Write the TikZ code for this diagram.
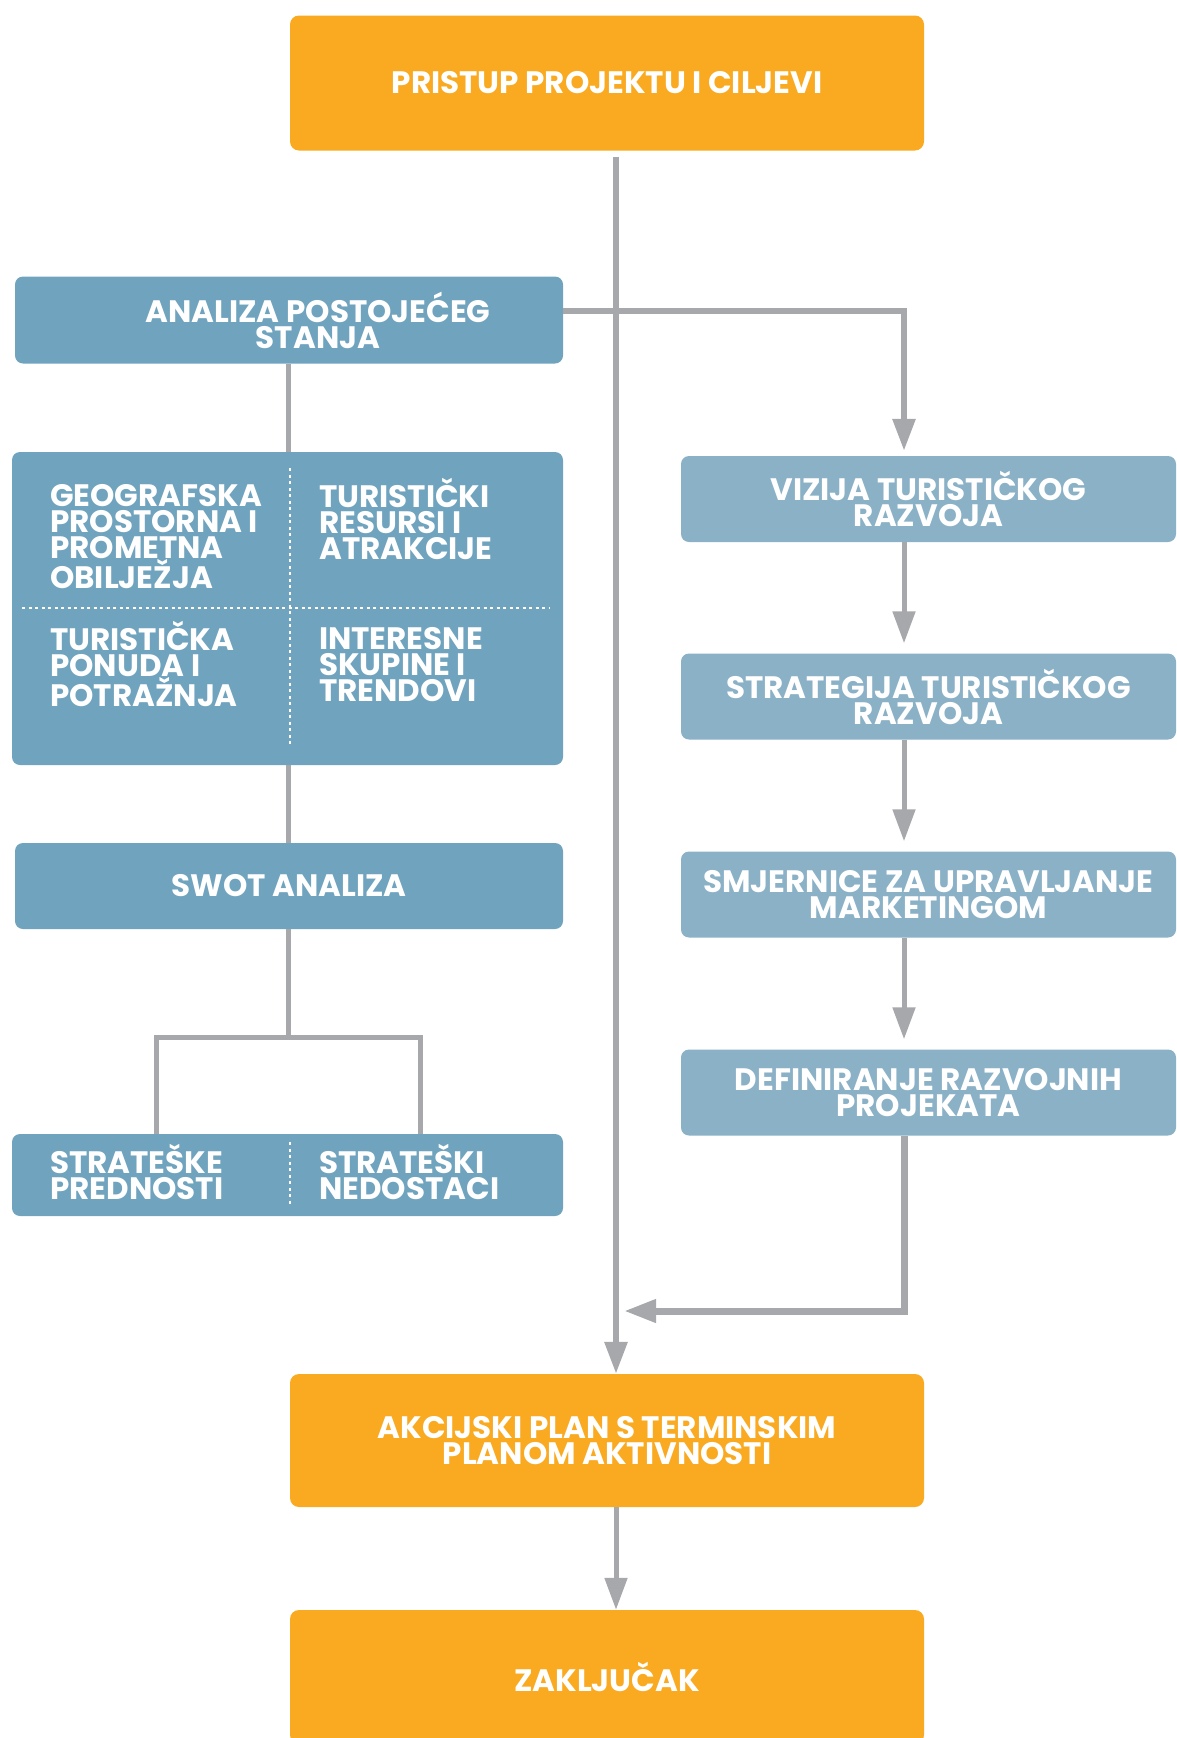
\documentclass[tikz,border=0pt]{standalone}
\usepackage{fontspec}
\setmainfont{Poppins}
\usetikzlibrary{arrows.meta,positioning}
\definecolor{boxorange}{HTML}{F9AA20}
\definecolor{boxblue}{HTML}{70A3BE}
\definecolor{boxlight}{HTML}{8BB1C7}
\definecolor{linegray}{HTML}{A7A8AB}

\begin{document}
\begin{tikzpicture}[x=1pt,y=-1pt,
  every node/.style={font=\fontsize{31}{26}\selectfont\bfseries, text=white, inner sep=0pt, align=center},
  orangebox/.style={fill=boxorange, rounded corners=9pt, minimum width=634pt, minimum height=135pt},
  bluebox/.style={fill=boxblue, rounded corners=8pt, minimum width=548pt, minimum height=78pt},
  lightbox/.style={fill=boxlight, rounded corners=8pt, minimum width=495pt, minimum height=86pt},
  cell/.style={anchor=north west, align=left},
  conn/.style={draw=linegray, line width=5pt},
  arr/.style={conn, -{Triangle[length=32pt,width=22pt]}},
  sep/.style={draw=white, line width=2.2pt, dash pattern=on 3pt off 3.5pt}]
  \useasboundingbox (0,0) rectangle (1176,1738);

  % main column
  \node[orangebox] (pristup) at (607,83) {PRISTUP PROJEKTU I CILJEVI};
  \node[orangebox, minimum height=133pt] (akcijski) at (607,1440.5) {AKCIJSKI PLAN S TERMINSKIM\\PLANOM AKTIVNOSTI};
  \node[orangebox, minimum height=134pt] (zakljucak) at (607,1677) {ZAKLJUČAK};

  % analysis
  \node[bluebox, minimum height=87pt] (analiza) at (289,320) {};
  \node (analizaTxt) at (318,320) {ANALIZA POSTOJEĆEG\\STANJA};
  \node[bluebox, minimum width=551pt, minimum height=313pt] (stanje) at (287.5,608.5) {};
  \draw[sep] (290,468) -- (290,745);
  \draw[sep] (22,608) -- (550,608);
  \node[cell] (geo) at (50,484) {GEOGRAFSKA\\PROSTORNA I\\PROMETNA\\OBILJEŽJA};
  \node[cell] (resursi) at (319,478) {TURISTIČKI\\RESURSI I\\ATRAKCIJE};
  \node[cell] (ponuda) at (50,621) {TURISTIČKA\\PONUDA I\\POTRAŽNJA};
  \node[cell] (interes) at (319,627) {INTERESNE\\SKUPINE I\\TRENDOVI};
  \node[bluebox, minimum height=86pt] (swot) at (289,886) {SWOT ANALIZA};
  \node[bluebox, minimum width=551pt, minimum height=82pt] (strat) at (287.5,1175) {};
  \draw[sep] (290,1142) -- (290,1206);
  \node[cell] (prednosti) at (50,1144) {STRATEŠKE\\PREDNOSTI};
  \node[cell] (nedostaci) at (319,1144) {STRATEŠKI\\NEDOSTACI};

  % strategy column
  \node[lightbox] (vizija) at (928.5,499) {VIZIJA TURISTIČKOG\\RAZVOJA};
  \node[lightbox] (strategija) at (928.5,696.5) {STRATEGIJA TURISTIČKOG\\RAZVOJA};
  \node[lightbox] (smjernice) at (928.5,894.5) {SMJERNICE ZA UPRAVLJANJE\\MARKETINGOM};
  \node[lightbox] (definiranje) at (928.5,1092.5) {DEFINIRANJE RAZVOJNIH\\PROJEKATA};

  \coordinate (trunk) at (616,0);
  \coordinate (lspine) at (288,0);
  \coordinate (rline) at (904,0);
  \coordinate (fork) at (288,1037);
  \coordinate (forkL) at (156,1037);
  \coordinate (forkR) at (420,1037);
  \coordinate (back) at (624,1311);

  \draw[arr, line width=6pt] ([yshift=-6pt]pristup.south -| trunk) -- (akcijski.north -| trunk);
  \draw[arr] (akcijski.south -| trunk) -- (zakljucak.north -| trunk);
  \draw[arr, line width=6pt, shorten >=5pt] ([yshift=9pt]analiza.east) -| (vizija.north -| rline);
  \foreach \a/\b in {vizija/strategija, strategija/smjernice, smjernice/definiranje}
    \draw[arr, shorten >=10pt] (\a.south -| rline) -- (\b.north -| rline);
  \draw[arr, line width=7pt] (definiranje.south -| rline) |- (back);

  \draw[conn] (analiza.south -| lspine) -- (stanje.north -| lspine);
  \draw[conn] (stanje.south -| lspine) -- (swot.north -| lspine);
  \draw[conn] (swot.south -| lspine) -- (fork);
  \draw[conn] (strat.north -| forkL) |- (forkR) -- (strat.north -| forkR);
\end{tikzpicture}
\end{document}
